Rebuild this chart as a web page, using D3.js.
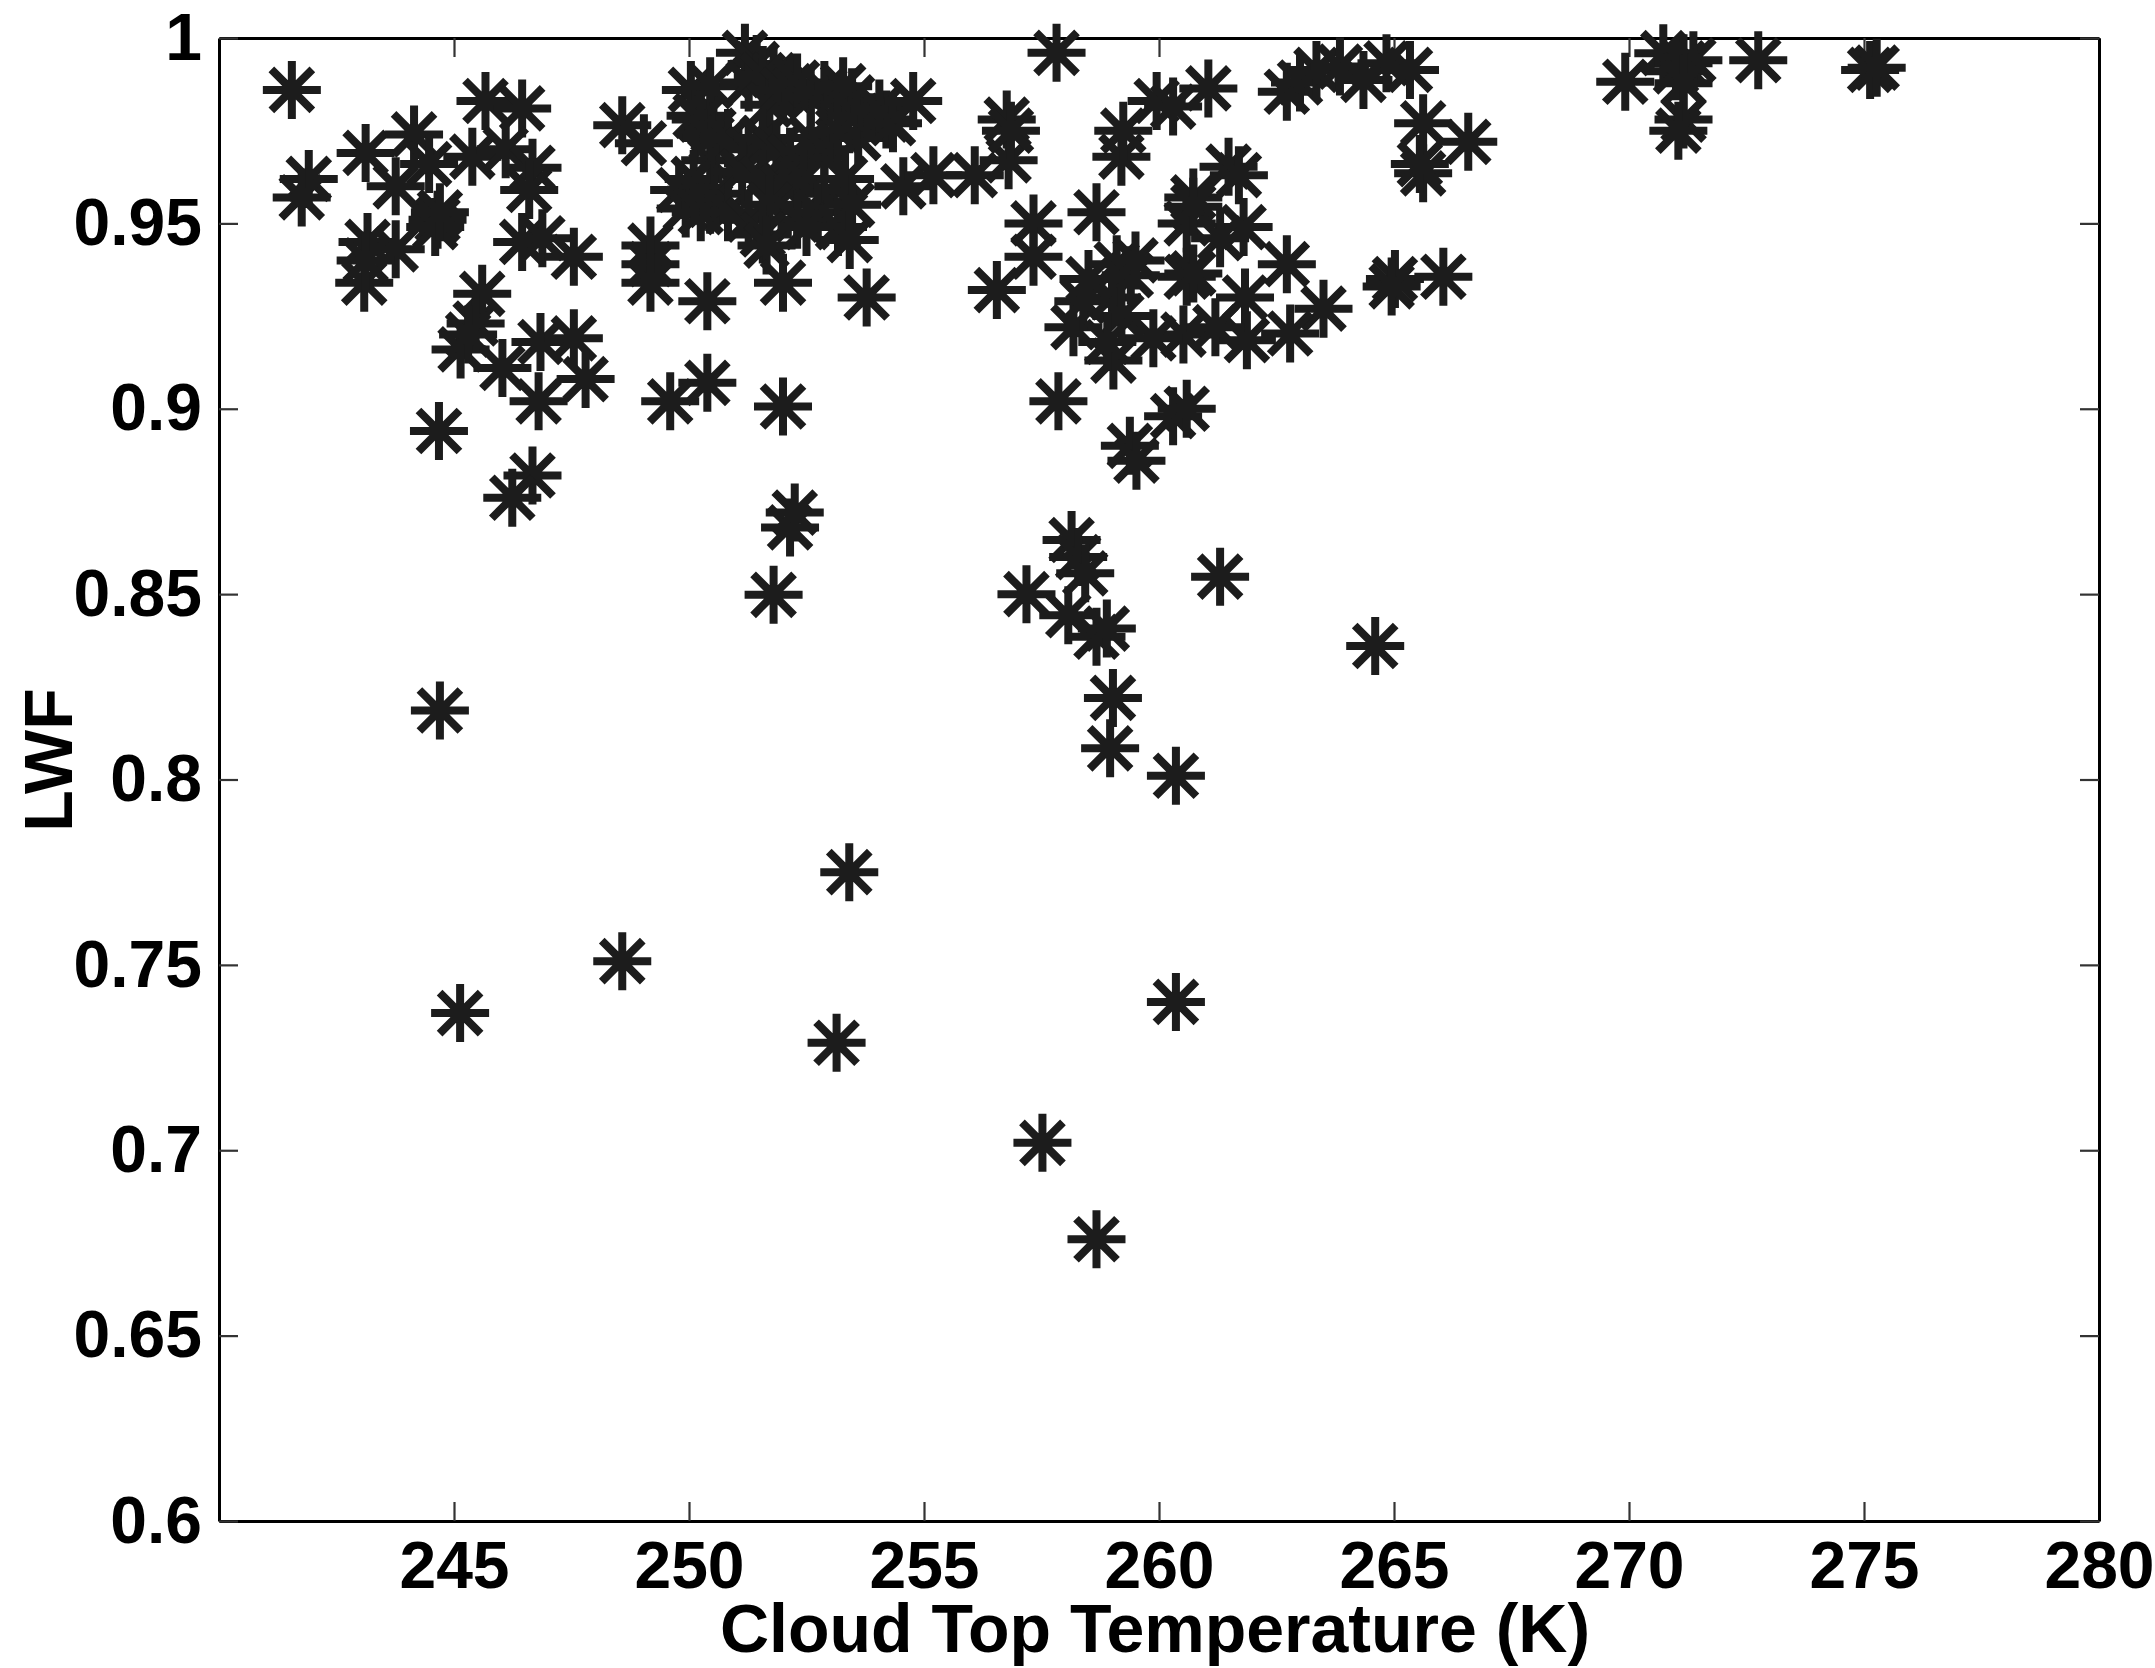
<!DOCTYPE html>
<html>
<head>
<meta charset="utf-8">
<script src="https://cdn.jsdelivr.net/npm/d3@7"></script>
<style>
  html, body { margin: 0; padding: 0; background: #fff; }
  svg { display: block; }
</style>
</head>
<body>
<script>
// ---- Data ----
const xTicks = [245, 250, 255, 260, 265, 270, 275, 280];
const yTicks = [0.6, 0.65, 0.7, 0.75, 0.8, 0.85, 0.9, 0.95, 1];
const xLabel = "Cloud Top Temperature (K)";
const yLabel = "LWF";

// Cloud top temperature (K)
const ctt = [
  241.55, 241.91, 241.76, 243.12, 244.15, 243.76, 244.47, 243.16, 243.09, 243.76,
  243.12, 244.65, 244.60, 244.70, 245.67, 246.45, 245.39, 246.10, 246.67, 246.60,
  246.45, 246.88, 247.55, 245.60, 245.46, 245.14, 245.30, 246.03, 246.84, 247.55,
  247.80, 246.80, 244.68, 246.67, 246.24, 248.58, 249.04, 250.04, 250.14, 249.79,
  249.93, 249.18, 249.18, 249.18, 250.39, 250.39, 249.60,
  244.70, 245.13, 248.58, 251.80, 252.15, 252.25, 253.41, 253.14, 257.52, 258.67,
  260.36, 260.36, 264.60,
  250.45, 250.52, 250.45, 250.45, 250.25, 250.48, 250.10, 250.54, 250.25,
  251.19, 251.44, 251.80, 252.15, 251.27, 251.57, 251.71, 252.00, 252.30, 252.59,
  252.88, 253.17, 253.47, 253.28,
  250.83, 251.27, 251.57, 251.86, 252.15, 252.59, 252.88, 253.17, 253.60,
  251.13, 251.57, 252.00, 252.44, 252.88, 253.32,
  250.83, 251.27, 251.71, 252.30, 252.74, 253.17, 253.47,
  251.57, 251.65, 252.50, 253.42, 252.00, 253.78, 252.00,
  253.57, 254.20, 254.05, 254.34, 254.77, 254.56, 255.20, 256.08,
  256.55, 257.33, 257.33, 256.76, 256.80, 256.85, 257.82, 258.67, 259.20, 259.24,
  259.95, 260.30, 260.73, 260.59, 260.59, 260.52, 259.10, 259.40, 258.18, 258.39,
  259.03, 259.88, 257.86, 259.38, 259.52, 260.30, 260.59,
  259.00, 259.20, 258.90, 259.50, 258.50,
  258.14, 258.28, 258.43, 257.18, 258.07, 258.67, 258.89, 261.30, 259.02, 258.96,
  261.05, 262.72, 263.00, 263.35, 263.85, 264.35, 264.84, 265.34, 265.62, 266.58,
  265.62, 265.55, 261.48, 261.70, 260.73, 261.80, 261.30, 260.73, 262.72, 261.83,
  263.50, 261.87, 262.79, 261.20, 265.02, 264.95, 266.05,
  269.92, 270.73, 271.16, 271.37, 271.00, 271.16, 271.16, 271.05, 272.75, 275.13,
  275.27
];

// Liquid water fraction
const lwf = [
  0.986, 0.962, 0.957, 0.969, 0.974, 0.960, 0.966, 0.945, 0.934, 0.943,
  0.940, 0.951, 0.949, 0.953, 0.983, 0.981, 0.968, 0.970, 0.965, 0.959,
  0.945, 0.946, 0.941, 0.931, 0.923, 0.916, 0.920, 0.911, 0.918, 0.919,
  0.908, 0.902, 0.894, 0.882, 0.876, 0.9765, 0.9716, 0.986, 0.979, 0.959,
  0.954, 0.944, 0.939, 0.934, 0.929, 0.907, 0.902,
  0.8186, 0.737, 0.751, 0.8498, 0.868, 0.872, 0.775, 0.729, 0.702, 0.676,
  0.801, 0.740, 0.836,
  0.987, 0.975, 0.967, 0.955, 0.978, 0.973, 0.962, 0.958, 0.953,
  0.996, 0.993, 0.990, 0.987, 0.988, 0.990, 0.982, 0.986, 0.988, 0.984,
  0.986, 0.982, 0.984, 0.987,
  0.973, 0.970, 0.973, 0.970, 0.968, 0.973, 0.970, 0.975, 0.973,
  0.964, 0.962, 0.960, 0.962, 0.958, 0.962,
  0.953, 0.951, 0.955, 0.951, 0.953, 0.949, 0.955,
  0.947, 0.944, 0.949, 0.9455, 0.934, 0.930, 0.9006,
  0.979, 0.978, 0.981, 0.977, 0.983, 0.960, 0.963, 0.963,
  0.932, 0.950, 0.941, 0.978, 0.967, 0.975, 0.996, 0.953, 0.968, 0.975,
  0.983, 0.9815, 0.957, 0.950, 0.9356, 0.920, 0.939, 0.936, 0.922, 0.929,
  0.913, 0.919, 0.902, 0.890, 0.886, 0.898, 0.900,
  0.930, 0.925, 0.918, 0.940, 0.935,
  0.8646, 0.860, 0.8556, 0.850, 0.8443, 0.8385, 0.8407, 0.8547, 0.822, 0.8084,
  0.9864, 0.9855, 0.988, 0.9914, 0.9923, 0.9887, 0.9932, 0.9914, 0.977, 0.972,
  0.9635, 0.966, 0.9653, 0.963, 0.9545, 0.949, 0.946, 0.9365, 0.939, 0.930,
  0.927, 0.9185, 0.9203, 0.922, 0.935, 0.933, 0.9356,
  0.9882, 0.9959, 0.9932, 0.994, 0.991, 0.9878, 0.978, 0.975, 0.994, 0.9914,
  0.992
];

// ---- Layout ----
const W = 2155, H = 1668;
const mLeft = 219, mRight = 2099, mTop = 38, mBottom = 1521;
const ink = "#1c1c1c";
const font = "'Liberation Sans', Arial, Helvetica, sans-serif";

const svg = d3.select("body").append("svg")
  .attr("width", W).attr("height", H)
  .attr("viewBox", `0 0 ${W} ${H}`);

const x = d3.scaleLinear().domain([240, 280]).range([mLeft, mRight]);
const y = d3.scaleLinear().domain([0.6, 1]).range([mBottom, mTop]);

const points = ctt.map((v, i) => ({ x: v, y: lwf[i] }));

// ---- Axes ----
function styleAxis(g) {
  g.select(".domain").attr("stroke", "#000").attr("stroke-width", 3);
  g.selectAll(".tick line").attr("stroke", "#333").attr("stroke-width", 2.2);
  g.selectAll(".tick text")
    .attr("fill", "#000")
    .style("font-family", font)
    .style("font-weight", "bold")
    .style("font-size", "66px");
}

svg.append("g")
  .attr("transform", `translate(0,${mBottom})`)
  .call(d3.axisBottom(x).tickValues(xTicks).tickFormat(d3.format("d"))
    .tickSizeInner(-19).tickSizeOuter(0).tickPadding(20))
  .call(styleAxis);

svg.append("g")
  .attr("transform", `translate(0,${mTop})`)
  .call(d3.axisTop(x).tickValues(xTicks).tickFormat("")
    .tickSizeInner(-19).tickSizeOuter(0))
  .call(styleAxis);

svg.append("g")
  .attr("transform", `translate(${mLeft},0)`)
  .call(d3.axisLeft(y).tickValues(yTicks).tickFormat(d => String(+d.toFixed(2)))
    .tickSizeInner(-19).tickSizeOuter(0).tickPadding(17))
  .call(styleAxis);

svg.append("g")
  .attr("transform", `translate(${mRight},0)`)
  .call(d3.axisRight(y).tickValues(yTicks).tickFormat("")
    .tickSizeInner(-19).tickSizeOuter(0))
  .call(styleAxis);

// ---- Markers (asterisks) ----
const r = 29, dg = 20.5;
const marks = svg.append("g")
  .attr("stroke", ink).attr("stroke-width", 8).attr("fill", "none")
  .attr("stroke-linecap", "butt");

marks.selectAll("path")
  .data(points)
  .join("path")
  .attr("d", p => {
    const cx = x(p.x), cy = y(p.y);
    return `M${cx - r},${cy}H${cx + r}` +
           `M${cx},${cy - r}V${cy + r}` +
           `M${cx - dg},${cy - dg}L${cx + dg},${cy + dg}` +
           `M${cx - dg},${cy + dg}L${cx + dg},${cy - dg}`;
  });

// ---- Axis titles ----
svg.append("text")
  .attr("x", 1155).attr("y", 1652)
  .attr("text-anchor", "middle")
  .style("font-family", font).style("font-weight", "bold").style("font-size", "68px")
  .attr("fill", "#000")
  .text(xLabel);

svg.append("text")
  .attr("transform", `translate(72,760) rotate(-90)`)
  .attr("text-anchor", "middle")
  .style("font-family", font).style("font-weight", "bold").style("font-size", "68px")
  .attr("fill", "#000")
  .text(yLabel);
</script>
</body>
</html>
